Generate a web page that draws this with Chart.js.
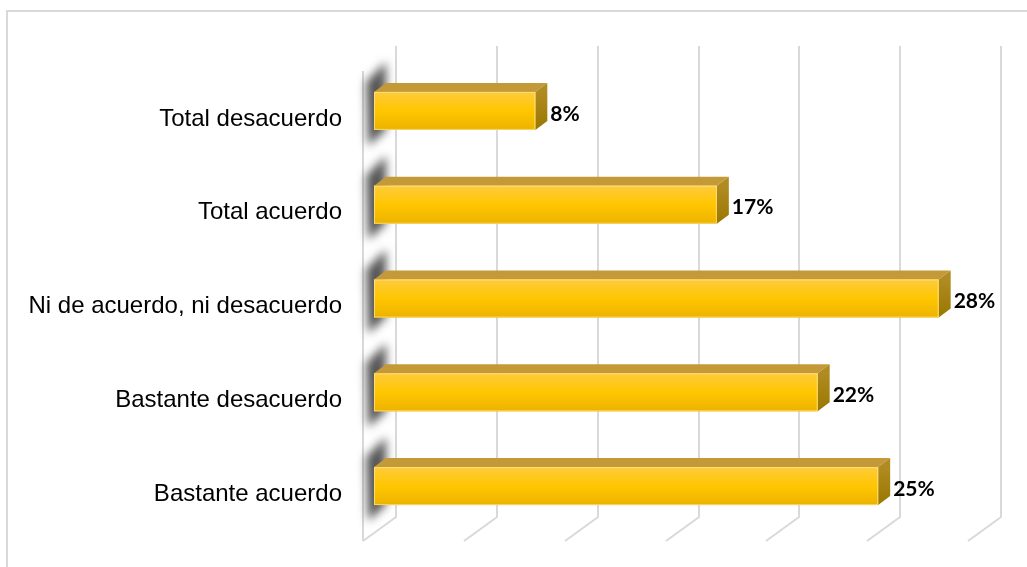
<!DOCTYPE html>
<html>
<head>
<meta charset="utf-8">
<script src="https://cdn.jsdelivr.net/npm/chart.js@4.4.1/dist/chart.umd.min.js"></script>
<style>
  html, body { margin: 0; padding: 0; background: #ffffff; }
  #grafico { display: block; }
</style>
</head>
<body>
<canvas id="grafico" width="1027" height="567"></canvas>
<script>
/* --------------- Datos --------------------- */
const categorias = [
  "Total desacuerdo",
  "Total acuerdo",
  "Ni de acuerdo, ni desacuerdo",
  "Bastante desacuerdo",
  "Bastante acuerdo",
];
const porcentajes = [8, 17, 28, 22, 25];
const ejeMin = 0;
const ejeMax = 30;
const ejePaso = 5;

/* --------------- Efecto 3D --------------- */
const PROF_X = 12;   // profundidad de cada barra
const PROF_Y = 9;
const PARED_ATRAS = 22;  // plano del fondo respecto a la base de las barras
const PARED_FRENTE = -11;
const GRIS = "#d9d9d9";

const fondo3d = {
  id: "fondo3d",
  beforeDraw(chart) {
    const ctx = chart.ctx;
    ctx.save();
    ctx.fillStyle = "#ffffff";
    ctx.fillRect(0, 0, chart.width, chart.height);
    // marco del gráfico
    ctx.strokeStyle = GRIS;
    ctx.lineWidth = 2;
    ctx.strokeRect(7, 11, chart.width + 20, chart.height + 20);
    ctx.restore();
  },
  beforeDatasetsDraw(chart) {
    const ctx = chart.ctx;
    const area = chart.chartArea;
    const x = chart.scales.x;
    const topAtras = area.top - 18, baseAtras = area.bottom - 16;
    const topFrente = area.top + 7, baseFrente = area.bottom + 8;
    const dx = PARED_ATRAS - PARED_FRENTE;
    ctx.save();
    ctx.strokeStyle = GRIS;
    ctx.lineWidth = 2;
    for (let v = ejeMin; v <= ejeMax; v += ejePaso) {
      const px = Math.round(x.getPixelForValue(v) + PARED_ATRAS);
      ctx.beginPath();
      ctx.moveTo(px, topAtras);
      ctx.lineTo(px, baseAtras);
      ctx.lineTo(px - dx, baseFrente);
      ctx.stroke();
    }
    // arista frontal de la pared izquierda
    const x0 = Math.round(x.getPixelForValue(ejeMin) + PARED_FRENTE);
    ctx.beginPath();
    ctx.moveTo(x0, topFrente);
    ctx.lineTo(x0, baseFrente);
    ctx.stroke();

    // sombras de las barras sobre la pared
    const meta = chart.getDatasetMeta(0);
    ctx.filter = "blur(5px)";
    ctx.fillStyle = "rgba(30,30,30,0.75)";
    meta.data.forEach((bar) => {
      const b = bar.base;
      const top = bar.y - bar.height / 2;
      const bottom = bar.y + bar.height / 2;
      ctx.beginPath();
      ctx.moveTo(b - 8, top - 10);
      ctx.lineTo(b + 12, top - 30);
      ctx.lineTo(b + 12, bottom);
      ctx.lineTo(b - 6, bottom + 16);
      ctx.closePath();
      ctx.fill();
    });
    ctx.restore();
  },
  afterDatasetsDraw(chart) {
    const ctx = chart.ctx;
    const meta = chart.getDatasetMeta(0);
    ctx.save();
    meta.data.forEach((bar, i) => {
      const x0 = bar.base, x1 = bar.x;
      const top = bar.y - bar.height / 2;
      const bottom = bar.y + bar.height / 2;

      // cara superior
      ctx.fillStyle = "#c49a38";
      ctx.beginPath();
      ctx.moveTo(x0, top);
      ctx.lineTo(x0 + PROF_X, top - PROF_Y);
      ctx.lineTo(x1 + PROF_X, top - PROF_Y);
      ctx.lineTo(x1, top);
      ctx.closePath();
      ctx.fill();

      // cara lateral
      const gLat = ctx.createLinearGradient(0, top, 0, bottom);
      gLat.addColorStop(0, "#b08b22");
      gLat.addColorStop(1, "#9a7700");
      ctx.fillStyle = gLat;
      ctx.beginPath();
      ctx.moveTo(x1, top);
      ctx.lineTo(x1 + PROF_X, top - PROF_Y);
      ctx.lineTo(x1 + PROF_X, bottom - PROF_Y);
      ctx.lineTo(x1, bottom);
      ctx.closePath();
      ctx.fill();

      // cara frontal
      const gFr = ctx.createLinearGradient(0, top, 0, bottom);
      gFr.addColorStop(0, "#fecb3c");
      gFr.addColorStop(0.5, "#ffc600");
      gFr.addColorStop(0.92, "#efb600");
      gFr.addColorStop(1, "#e9b200");
      ctx.fillStyle = gFr;
      ctx.fillRect(x0, top, x1 - x0, bottom - top);
      ctx.strokeStyle = "rgba(255,230,150,0.7)";
      ctx.lineWidth = 1;
      ctx.strokeRect(x0 + 0.5, top + 0.5, x1 - x0 - 1, bottom - top - 1);

      // etiqueta de valor
      ctx.fillStyle = "#000000";
      ctx.font = "bold 21px Lato";
      ctx.textAlign = "left";
      ctx.textBaseline = "middle";
      ctx.fillText(porcentajes[i] + "%", x1 + PROF_X + 3, bar.y + 3);
    });
    ctx.restore();
  },
};

/* --------------- Gráfico --------------------- */
const grafico = new Chart(document.getElementById("grafico"), {
  type: "bar",
  plugins: [fondo3d],
  data: {
    labels: categorias,
    datasets: [
      {
        data: porcentajes,
        backgroundColor: "#ffc600",
        categoryPercentage: 1,
        barPercentage: 0.405,
      },
    ],
  },
  options: {
    indexAxis: "y",
    responsive: false,
    devicePixelRatio: 1,
    animation: false,
    layout: { padding: { top: 64, bottom: 34, right: 48, left: 0 } },
    plugins: {
      legend: { display: false },
      tooltip: { enabled: false },
    },
    scales: {
      x: {
        display: false,
        min: ejeMin,
        max: ejeMax,
        ticks: { stepSize: ejePaso, display: false },
        afterFit: (s) => { s.height = 0; },
      },
      y: {
        grid: { display: false, drawTicks: false },
        border: { display: false },
        afterFit: (s) => {
          s.width = 374;
          s.paddingTop = 0;
          s.paddingBottom = 0;
        },
        ticks: {
          color: "#000000",
          font: { family: "Liberation Sans", size: 24 },
          padding: 32,
          labelOffset: 8,
        },
      },
    },
  },
});
</script>
</body>
</html>
